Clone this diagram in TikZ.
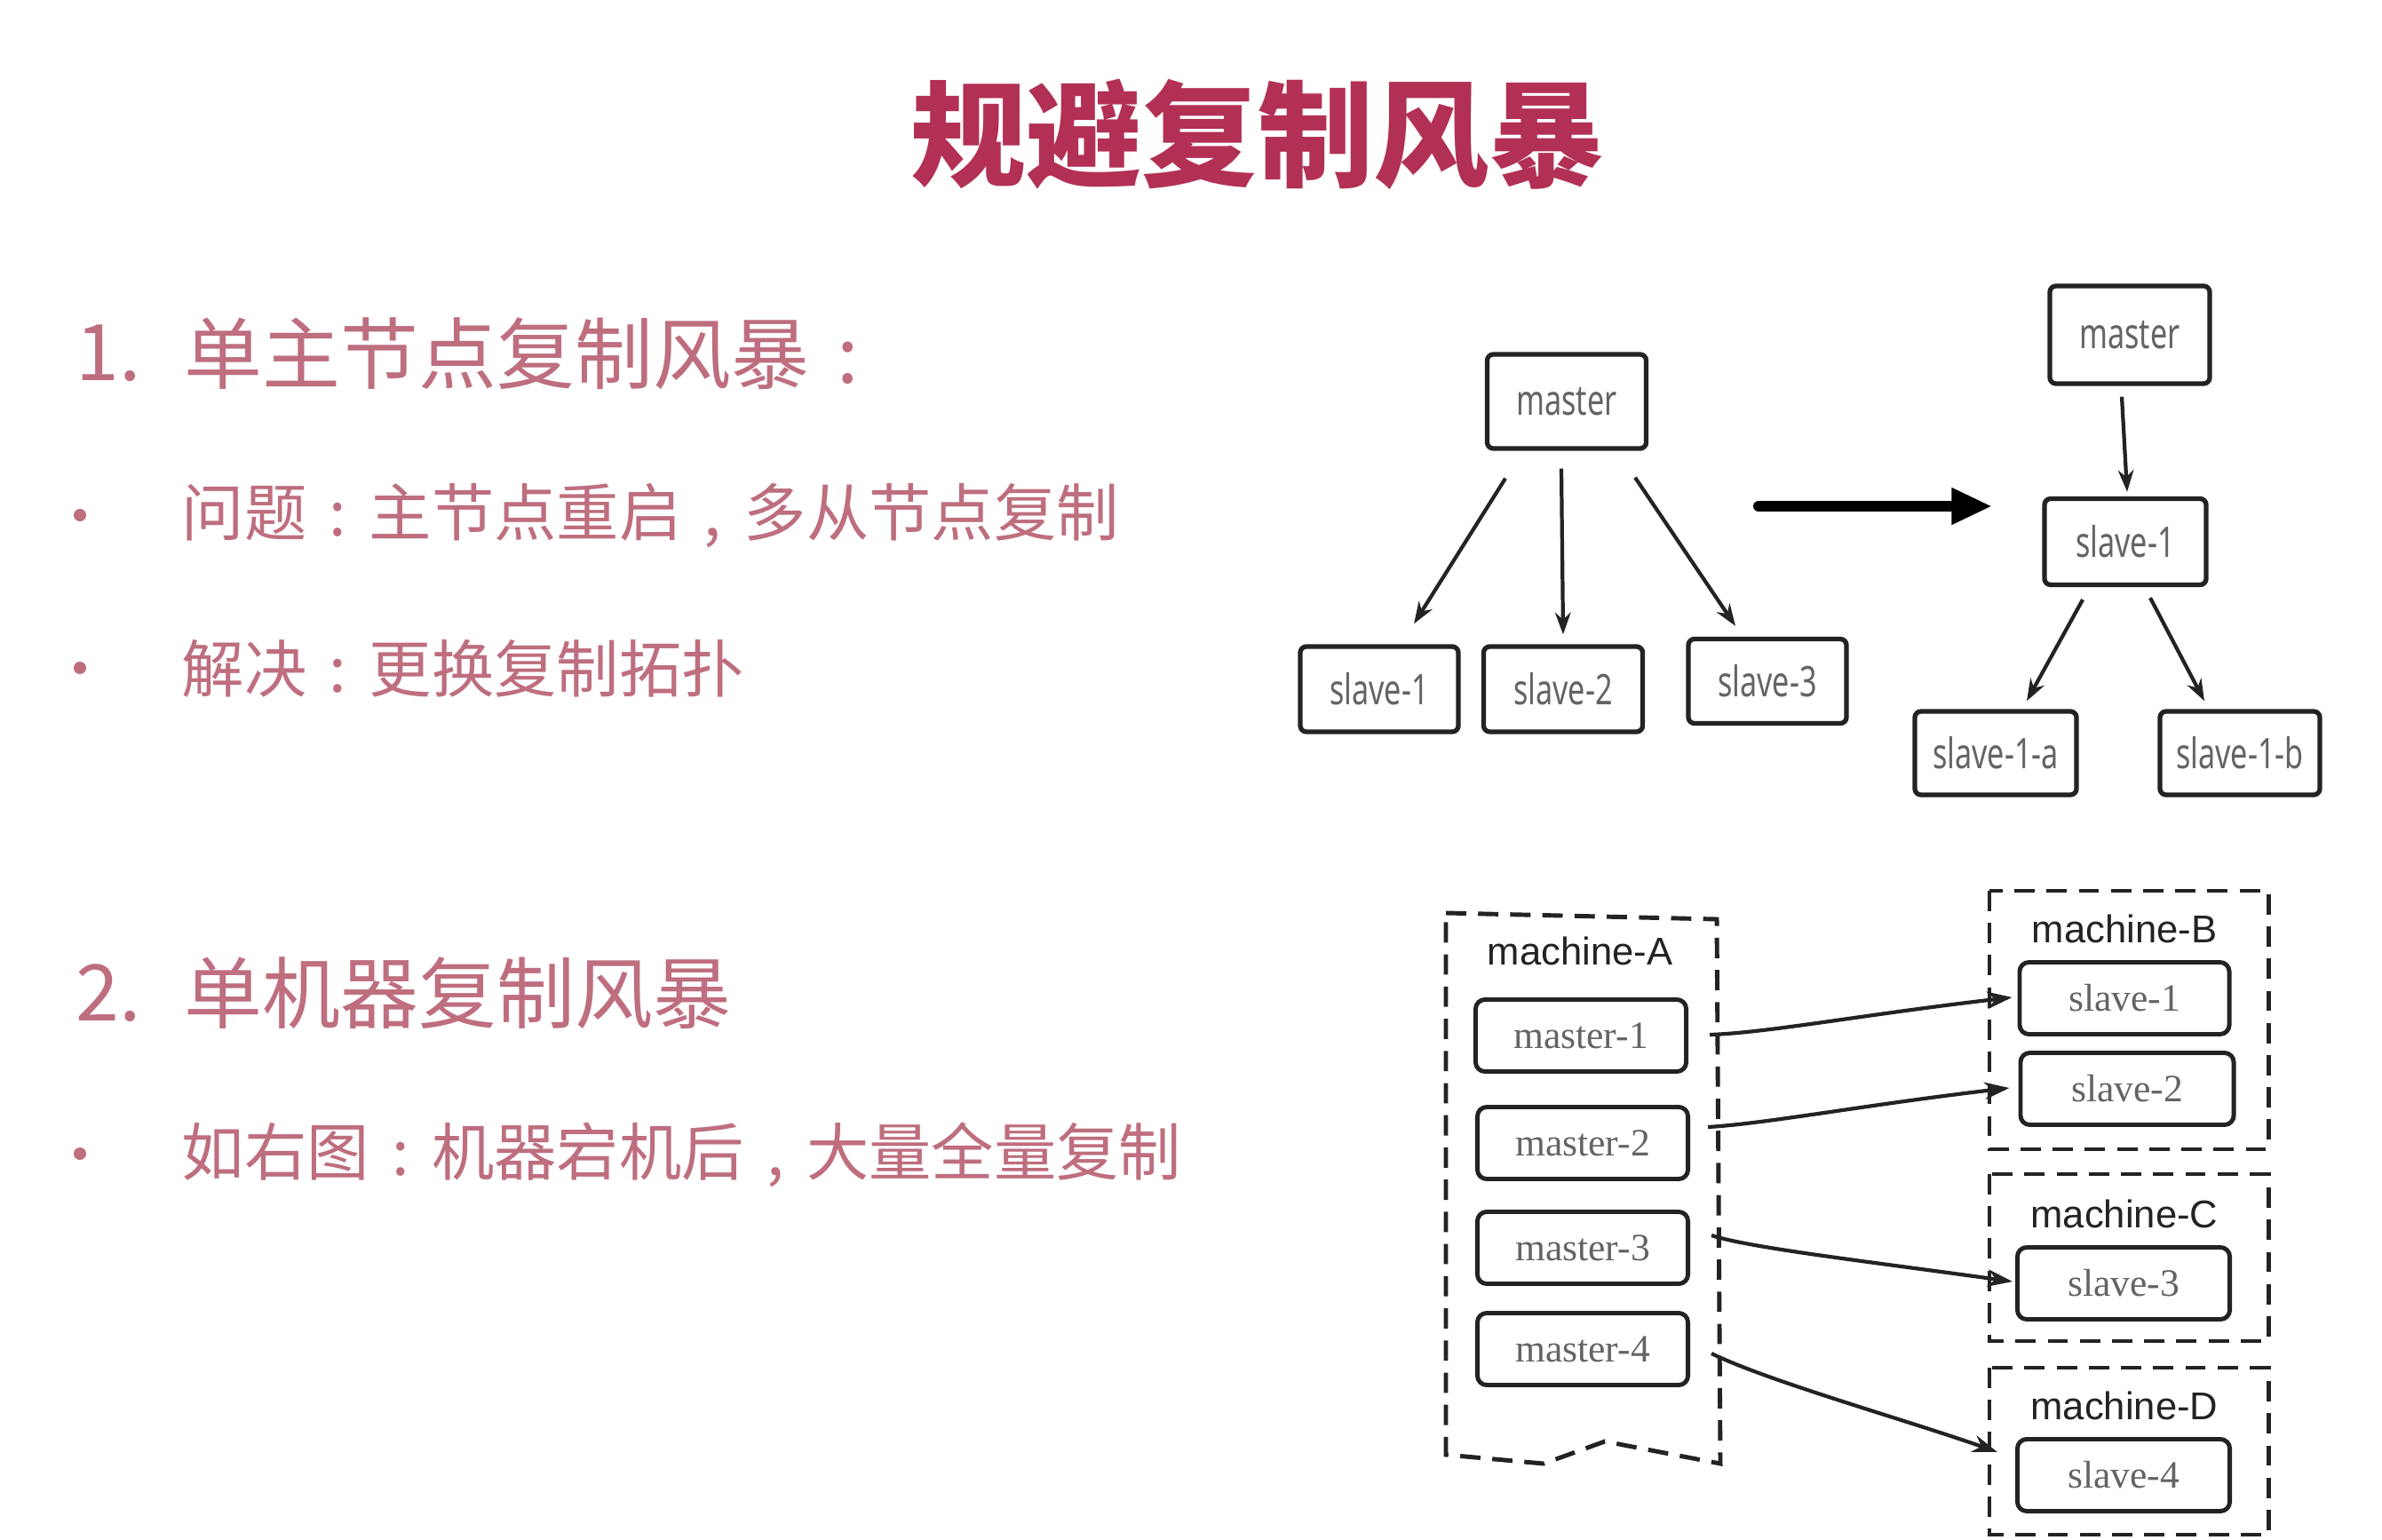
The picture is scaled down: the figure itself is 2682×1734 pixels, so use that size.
\documentclass[tikz,border=0pt]{standalone}
\usepackage{fontspec}
\usetikzlibrary{arrows.meta,calc}
\newfontfamily\cjk{Noto Sans CJK SC}
\newfontfamily\sketch[FakeStretch=0.72]{Noto Sans}
\newfontfamily\helv{Liberation Sans}
\newfontfamily\tms{Liberation Serif}
\definecolor{titlec}{RGB}{178,48,84}
\definecolor{bodyc}{RGB}{190,110,126}
\definecolor{ink}{RGB}{35,35,35}
\definecolor{txtg}{RGB}{100,100,100}
\newcommand{\pc}{\makebox[1em][c]{:}}
\newcommand{\pcm}{\makebox[1em][c]{,}}
\tikzset{
  head/.style={anchor=west, inner sep=0, text=bodyc, font=\cjk\fontsize{25}{28}\selectfont},
  bodytxt/.style={anchor=west, inner sep=0, text=bodyc, font=\cjk\fontsize{20}{24}\selectfont},
  bul/.style={circle, fill=bodyc, inner sep=0, minimum size=0.14cm},
  sk/.style={draw=ink, line width=1.5pt, rounded corners=2pt, inner sep=0, text=txtg,
    font=\sketch\fontsize{13.5}{15}\selectfont},
  arr/.style={draw=ink, line width=1.2pt, -{Stealth[length=7pt,width=5pt]}},
  big/.style={draw=black, line width=3.4pt, line cap=round, -{Triangle[length=13pt,width=11pt]}},
  bx/.style={draw=ink, line width=1.4pt, rounded corners=3pt, inner sep=0, text=txtg,
    font=\tms\fontsize{12.4}{14}\selectfont, minimum width=2.37cm, minimum height=0.81cm},
  mlabel/.style={inner sep=0, text=ink, font=\helv\fontsize{12.4}{14}\selectfont},
  dsh/.style={draw=ink, line width=1.4pt, dash pattern=on 6.5pt off 3.8pt},
  arrb/.style={draw=ink, line width=1.2pt, -{Stealth[length=8pt,width=5.5pt]}}
}
\begin{document}
\begin{tikzpicture}[x=0.01cm,y=-0.01cm]
\fill[white] (0,0) rectangle (2682,1734);
\useasboundingbox (0,0) rectangle (2682,1734);

% title
\node[inner sep=0, text=titlec, font=\cjk\bfseries\fontsize{37}{40}\selectfont] (title) at (1416,151) {规避复制风暴};

% left text
\node[head] (n1) at (85,398) {1.};
\node[head] (h1) at (207,398) {单主节点复制风暴\pc};
\node[bul] (d1) at (90,580) {};
\node[bodytxt] (t1) at (204,581) {问题\pc 主节点重启\pcm 多从节点复制};
\node[bul] (d2) at (90,752) {};
\node[bodytxt] (t2) at (204,753) {解决\pc 更换复制拓扑};
\node[head] (n2) at (85,1118) {2.};
\node[head] (h2) at (207,1118) {单机器复制风暴};
\node[bul] (d3) at (90,1299) {};
\node[bodytxt] (t3) at (204,1300) {如右图\pc 机器宕机后\pcm 大量全量复制};

% top-left tree
\node[sk, minimum width=1.79cm, minimum height=1.06cm] (ml) at (1764,452) {master};
\node[sk, minimum width=1.78cm, minimum height=0.96cm] (ls1) at (1553,776) {slave-1};
\node[sk, minimum width=1.79cm, minimum height=0.96cm] (ls2) at (1760,776) {slave-2};
\node[sk, minimum width=1.78cm, minimum height=0.95cm] (ls3) at (1990,767) {slave-3};
\draw[arr] ($(ml.south)+(-69,31)$) -- ($(ls1.north)+(39,-23)$);
\draw[arr] ($(ml.south)+(-6,20)$) -- ($(ls2.north)+(0,-11)$);
\draw[arr] ($(ml.south)+(77,30)$) -- ($(ls3.north)+(-36,-12)$);

% big arrow
\coordinate (ba1) at (1980,570);
\coordinate (ba2) at (2243,570);
\draw[big] (ba1) -- (ba2);

% top-right tree
\node[sk, minimum width=1.80cm, minimum height=1.10cm] (mr) at (2398,377) {master};
\node[sk, minimum width=1.82cm, minimum height=0.97cm] (rs1) at (2393,610) {slave-1};
\node[sk, minimum width=1.82cm, minimum height=0.94cm] (rsa) at (2247,848) {slave-1-a};
\node[sk, minimum width=1.80cm, minimum height=0.94cm] (rsb) at (2522,848) {slave-1-b};
\draw[arr] ($(mr.south)+(-9,12)$) -- ($(rs1.north)+(2,-5)$);
\draw[arr] ($(rs1.south)+(-48,14)$) -- ($(rsa.north)+(35,-9)$);
\draw[arr] ($(rs1.south)+(28,12)$) -- ($(rsb.north)+(-40,-9)$);

% bottom: machines
\draw[dsh] (1628,1028) -- (1933,1035) -- (1937,1648) -- (1807,1623) -- (1738,1648) -- (1628,1638) -- cycle;
\draw[dsh] (2240,1003) rectangle (2554,1294);
\draw[dsh] (2240,1322) rectangle (2554,1510);
\draw[dsh] (2240,1540) rectangle (2554,1728);
\node[mlabel] (la) at (1779,1071) {machine-A};
\node[mlabel] (lb) at (2392,1046) {machine-B};
\node[mlabel] (lc) at (2392,1367) {machine-C};
\node[mlabel] (ld) at (2392,1583) {machine-D};

\node[bx] (m1) at (1780,1166) {master-1};
\node[bx] (m2) at (1782,1287) {master-2};
\node[bx] (m3) at (1782,1405) {master-3};
\node[bx] (m4) at (1782,1519) {master-4};
\node[bx, minimum width=2.36cm] (s1) at (2392,1124) {slave-1};
\node[bx, minimum width=2.40cm] (s2) at (2395,1226) {slave-2};
\node[bx, minimum width=2.39cm] (s3) at (2391,1445) {slave-3};
\node[bx, minimum width=2.39cm] (s4) at (2391,1661) {slave-4};

\draw[arrb] ($(m1.east)+(24,-1)$) .. controls (1990,1163) and (2100,1142) .. ($(s1.west)+(-6,-1)$);
\draw[arrb] ($(m2.east)+(20,-18)$) .. controls (1990,1265) and (2100,1244) .. ($(s2.west)+(-10,-1)$);
\draw[arrb] ($(m3.east)+(24,-14)$) .. controls (1970,1405) and (2100,1420) .. ($(s3.west)+(-3,-2)$);
\draw[arrb] ($(m4.east)+(24,5)$) .. controls (1990,1555) and (2150,1600) .. ($(s4.west)+(-20,-26)$);
\end{tikzpicture}
\end{document}
